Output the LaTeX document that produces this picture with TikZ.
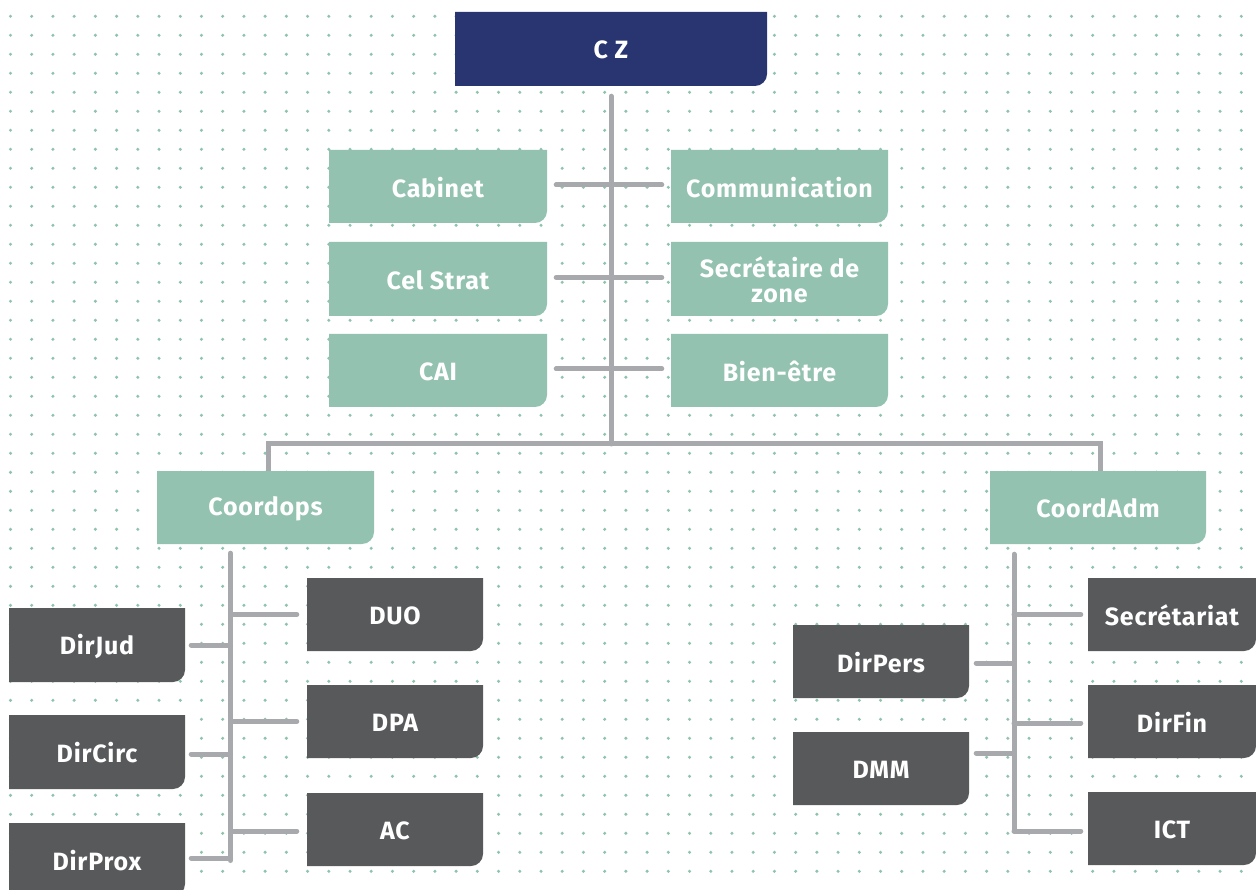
\documentclass[tikz,border=0pt]{standalone}
\usepackage{fontspec}
\setmainfont{Fira Sans}[LetterSpace=3]
\definecolor{navy}{HTML}{283571}
\definecolor{mint}{HTML}{93C2B0}
\definecolor{darkg}{HTML}{58595B}
\definecolor{dotc}{HTML}{8FC3AE}
\definecolor{linec}{HTML}{A7A9AC}
\tikzset{
  boxtxt/.style={text=white, font=\bfseries\fontsize{25}{25}\selectfont, align=center, inner sep=0pt},
  conn/.style={draw=linec, line width=5pt, line cap=round},
}
\newcommand\obox[7]{%
  \fill[#6] ({#2},{#3}) -- ({#4},{#3}) -- ({#4},{#5-12}) arc[start angle=0,end angle=-90,radius=12pt] -- ({#2},{#5}) -- cycle;
  \node[boxtxt, minimum width={(#4-#2)*1pt}, minimum height={(#5-#3)*1pt}] (#1) at ({(#2+#4)/2},{(#3+#5)/2+1}) {#7};
}
\begin{document}
\begin{tikzpicture}[x=1pt,y=-1pt]
\useasboundingbox (0,0) rectangle (1256,890);
\fill[white] (0,0) rectangle (1256,890);
% dot grid
\foreach \i in {0,...,58}{
  \foreach \j in {0,...,45}{
    \fill[dotc] ({10.5+\i*21.22},{16.3+\j*19}) circle (1.7pt);
  }
}
% boxes
\obox{cz}{455}{12}{767}{86}{navy}{C Z}
\obox{cab}{329}{150}{547}{223}{mint}{Cabinet}
\obox{com}{671}{150}{888}{223}{mint}{Communication}
\obox{cel}{329}{242}{547}{316}{mint}{Cel Strat}
\obox{sec}{671}{242}{888}{316}{mint}{Secrétaire de\\zone}
\obox{cai}{329}{334}{547}{407}{mint}{CAI}
\obox{bien}{671}{334}{888}{407}{mint}{Bien-être}
\obox{cops}{157}{471}{374}{544}{mint}{Coordops}
\obox{cadm}{990}{471}{1206}{544}{mint}{CoordAdm}
\obox{dirjud}{9}{608}{185}{682}{darkg}{DirJud}
\obox{dircirc}{9}{715}{185}{789}{darkg}{DirCirc}
\obox{dirprox}{9}{823}{185}{896}{darkg}{DirProx}
\obox{duo}{307}{578}{483}{651}{darkg}{DUO}
\obox{dpa}{307}{685}{483}{758}{darkg}{DPA}
\obox{ac}{307}{793}{483}{866}{darkg}{AC}
\obox{dirpers}{793}{625}{969}{698}{darkg}{DirPers}
\obox{dmm}{793}{732}{969}{805}{darkg}{DMM}
\obox{secr}{1088}{578}{1256}{651}{darkg}{Secrétariat}
\obox{dirfin}{1088}{685}{1256}{758}{darkg}{DirFin}
\obox{ict}{1088}{792}{1256}{865}{darkg}{ICT}
% trunk
\coordinate (t0) at ([yshift=-9pt]cz.south);
\coordinate (hub) at (611,444);
\draw[conn] (t0) -- (hub);
\draw[conn, line cap=butt] ([xshift=2.5pt,yshift=1pt]cops.north) |- (hub) -| ([xshift=2pt,yshift=1pt]cadm.north);
% staff stubs
\draw[conn] ([xshift=9pt,yshift=2.5pt]cab.east) -- ([xshift=-9pt,yshift=2.5pt]com.west);
\draw[conn] ([xshift=9pt,yshift=2.5pt]cel.east) -- ([xshift=-9pt,yshift=2.5pt]sec.west);
\draw[conn] ([xshift=9pt,yshift=2.5pt]cai.east) -- ([xshift=-9pt,yshift=2.5pt]bien.west);
% Coordops branch
\coordinate (cv0) at ([xshift=-35pt,yshift=-8pt]cops.south);
\coordinate (cv1) at (cv0 |- dirprox.east);
\draw[conn] (cv0) -- (cv1);
\draw[conn] ([xshift=6pt,yshift=1pt]dirjud.east) -- ([yshift=1pt]dirjud.east -| cv0);
\draw[conn] ([xshift=6pt,yshift=-1pt]dircirc.east) -- ([yshift=-1pt]dircirc.east -| cv0);
\draw[conn] ([xshift=6pt,yshift=2.5pt]dirprox.east) -- ([yshift=2.5pt]dirprox.east -| cv0);
\draw[conn] ([yshift=1pt]duo.west -| cv0) -- ([xshift=-10pt,yshift=1pt]duo.west);
\draw[conn] ([yshift=1pt]dpa.west -| cv0) -- ([xshift=-10pt,yshift=1pt]dpa.west);
\draw[conn] ([yshift=-0.5pt]ac.west -| cv0) -- ([xshift=-10pt,yshift=-0.5pt]ac.west);
% CoordAdm branch
\coordinate (dv0) at ([xshift=-84pt,yshift=-9pt]cadm.south);
\coordinate (dv1) at ([yshift=-1.5pt]dv0 |- ict.west);
\draw[conn] (dv0) -- (dv1);
\draw[conn] ([xshift=7pt,yshift=-0.5pt]dirpers.east) -- ([yshift=-0.5pt]dirpers.east -| dv0);
\draw[conn] ([xshift=7pt,yshift=16.5pt]dmm.east) -- ([yshift=16.5pt]dmm.east -| dv0);
\draw[conn] ([yshift=1pt]secr.west -| dv0) -- ([xshift=-7pt,yshift=1pt]secr.west);
\draw[conn] ([yshift=-0.5pt]dirfin.west -| dv0) -- ([xshift=-7pt,yshift=-0.5pt]dirfin.west);
\draw[conn] (dv1) -- ([xshift=-7pt]dv1 -| ict.west);
\end{tikzpicture}
\end{document}
